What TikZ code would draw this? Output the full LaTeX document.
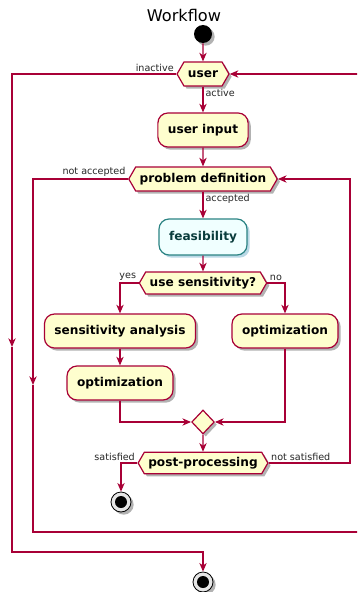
\documentclass[tikz,border=0pt]{standalone}
\usepackage{fontspec}
\setmainfont{DejaVu Sans}
\usetikzlibrary{arrows.meta}
\usetikzlibrary{positioning}
\usetikzlibrary{shapes.symbols,shapes.geometric}
\usetikzlibrary{shadows}
\definecolor{umlred}{HTML}{A80036}
\definecolor{umlfill}{HTML}{FEFECE}
\definecolor{feasline}{HTML}{2B8383}
\definecolor{feasfill}{HTML}{F0FFFF}
\definecolor{feastext}{HTML}{0A3C3C}

\begin{document}
\begin{tikzpicture}[x=0.75pt,y=-0.75pt,>={Stealth[length=6.5pt,width=5.5pt,inset=2pt]},
    flow/.style={draw=umlred,line width=0.9pt},
    shade box/.style={drop shadow={shadow xshift=2pt,shadow yshift=-2pt,fill=black,opacity=0.3}},
    base box/.style={rectangle,rounded corners=7.5pt,line width=0.9pt,
                     minimum height=25.5pt,inner xsep=7.5pt,font=\fontsize{9.1}{11}\selectfont\bfseries},
    action/.style={base box,draw=umlred,fill=umlfill,shade box},
    feas box/.style={base box,draw=feasline,fill=feasfill,text=feastext,minimum height=27pt,
                     drop shadow={shadow xshift=2pt,shadow yshift=-2pt,fill=cyan!70!black,opacity=0.35}},
    choice/.style={signal,signal to=east and west,signal pointer angle=120,draw=umlred,fill=umlfill,
                   line width=0.9pt,shade box,minimum height=18pt,inner xsep=3pt,inner ysep=1pt,
                   font=\fontsize{9.1}{11}\selectfont\bfseries},
    merge/.style={diamond,draw=umlred,fill=umlfill,line width=0.9pt,shade box,
                  minimum width=17pt,minimum height=18pt,inner sep=0pt},
    lbl/.style={font=\fontsize{7.2}{8.5}\selectfont,inner sep=1.5pt,text=black!85},
    start node/.style={circle,fill=black,minimum size=13.5pt,inner sep=0pt,shade box},
    stop node/.style={circle,draw=black,fill=gray!20,line width=0.6pt,minimum size=15pt,
                      inner sep=0pt,shade box}]

  \fill[white] (0,0) rectangle (357,592);
  \clip (0,0) rectangle (357,592);

  % nodes
  \node[font=\fontsize{12.1}{14}\selectfont] (title) at (184,15) {Workflow};
  \node[start node] (start) at (203,34) {};
  \node[choice] (user) at (203,74) {user};
  \node[action] (input) at (203,130) {user input};
  \node[choice] (probdef) at (203,179) {problem definition};
  \node[feas box] (feas) at (203,237) {feasibility};
  \node[choice,minimum height=16.5pt] (usesens) at (203,283) {use sensitivity?};
  \node[action] (sa) at (120,331) {sensitivity analysis};
  \node[action] (optR) at (285,331) {optimization};
  \node[action] (optL) at (120,383) {optimization};
  \node[merge] (merge) at (203,422) {};
  \node[choice,minimum height=16pt] (post) at (203,463) {post-processing};
  \node[stop node] (stop1) at (121,502) {};
  \node[stop node] (stop2) at (203,582) {};
  \fill (stop1) circle (4.5pt);
  \fill (stop2) circle (4.5pt);

  % bends of the loops
  \coordinate (outer arrow) at (12,347);
  \coordinate (outer bottom) at (12,552);
  \coordinate (inner arrow) at (33,385);
  \coordinate (inner bottom) at (33,532);
  \coordinate (repeat corner) at (372,532);
  \coordinate (repeat top) at (372,74);
  \coordinate (retry) at (350,179);

  % connectors
  \draw[flow,->] (start) -- (user);
  \draw[flow,->] (user.south) node[lbl,anchor=north west] {active} -- (input.north);
  \draw[flow,->] (user.west) node[lbl,anchor=south east] {inactive} -| (outer arrow);
  \draw[flow,->] (outer arrow) -- (outer bottom) -| (stop2.north);
  \draw[flow,->] (input) -- (probdef);
  \draw[flow,->] (probdef.south) node[lbl,anchor=north west] {accepted} -- (feas.north);
  \draw[flow,->] (probdef.west) node[lbl,anchor=south east] {not accepted} -| (inner arrow);
  \draw[flow,->] (inner arrow) -- (inner bottom) -- (repeat corner) -- (repeat top) -- (user.east);
  \draw[flow,->] (feas) -- (usesens);
  \draw[flow,->] (usesens.west) node[lbl,anchor=south east] {yes} -| (sa.north);
  \draw[flow,->] (usesens.east) node[lbl,anchor=south west] {no} -| (optR.north);
  \draw[flow,->] (sa) -- (optL);
  \draw[flow,->] (optL.south) |- (merge.west);
  \draw[flow,->] (optR.south) |- (merge.east);
  \draw[flow,->] (merge) -- (post);
  \draw[flow,->] (post.west) node[lbl,anchor=south east] {satisfied} -| (stop1.north);
  \draw[flow,->] (post.east) node[lbl,anchor=south west] {not satisfied} -| (retry) -- (probdef.east);
\end{tikzpicture}
\end{document}
